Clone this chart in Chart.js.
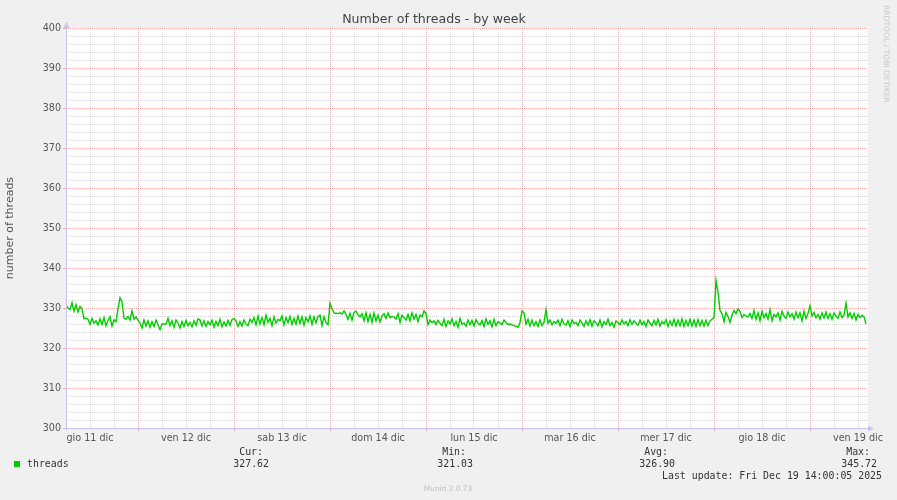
<!DOCTYPE html>
<html><head><meta charset="utf-8">
<script src="https://cdn.jsdelivr.net/npm/chart.js@4.4.1/dist/chart.umd.min.js"></script>
<style>html,body{margin:0;padding:0;background:#f0f0f0;}#wrap{width:897px;height:500px;position:relative}</style>
</head><body><div id="wrap"><canvas id="c" width="897" height="500"></canvas></div>
<script>
// ---- data ----
const chartTitle = "Number of threads - by week";
const yAxisTitle = "number of threads";
const sideText = "RRDTOOL / TOBI OETIKER";
const footerText = "Munin 2.0.73";
// samples every 30 minutes, starting Wed 10 Dec 2025 06:00 (hour 0)
const sampleStepHours = 0.5;
const hoursSpan = 200.5;
const dayLabels = ["gio 11 dic","ven 12 dic","sab 13 dic","dom 14 dic","lun 15 dic","mar 16 dic","mer 17 dic","gio 18 dic","ven 19 dic"];
const labelHours = [6, 30, 54, 78, 102, 126, 150, 174, 198];
const midnightHours = [18, 42, 66, 90, 114, 138, 162, 186];
const yMin = 300, yMax = 400;
const threads = [
  // Wed 10 Dec 06:00 - 23:30
  330.8, 330.0, 329.6, 331.3, 329.2, 330.8, 329.0, 330.4, 329.8, 327.3,
  327.5, 327.2, 325.9, 327.4, 326.2, 326.8, 325.8, 327.3, 325.9, 327.6,
  325.6, 326.9, 327.8, 325.5, 327.0, 326.6, 329.8, 332.6, 331.6, 327.5,
  327.2, 327.9, 327.0, 329.3, 327.2, 327.8,
  // Thu 11 Dec
  327.0, 326.2, 325.0, 327.0, 325.5, 326.8, 325.2, 326.6,
  325.4, 327.0, 325.8, 324.6, 326.0, 326.0, 326.0, 327.4,
  325.6, 326.8, 325.2, 327.0, 326.2, 325.0, 326.6, 325.4,
  326.9, 325.6, 326.4, 325.3, 326.8, 325.7, 327.3, 327.0,
  325.5, 326.8, 325.4, 326.6, 325.8, 327.0, 325.2, 326.6,
  325.6, 327.2, 325.3, 326.5, 325.5, 326.9, 325.7, 327.1,
  // Fri 12 Dec
  327.4, 326.8, 325.4, 326.6, 325.5, 327.0, 326.0, 325.6,
  327.2, 326.4, 327.6, 325.8, 328.0, 326.0, 327.6, 325.8,
  328.2, 326.4, 327.4, 325.6, 327.8, 326.2, 327.2, 326.8,
  328.0, 325.8, 327.6, 326.4, 327.9, 325.9, 327.4, 326.0,
  328.0, 326.2, 327.8, 325.7, 327.6, 326.6, 328.0, 325.9,
  327.8, 326.3, 327.9, 328.2, 325.6, 327.8, 326.4, 325.8,
  // Sat 13 Dec
  331.2, 329.8, 328.8, 328.7, 328.6, 328.8, 328.5, 329.3,
  328.4, 327.2, 328.7, 327.0, 328.9, 329.2, 328.3, 327.8,
  328.6, 326.8, 328.8, 326.6, 328.4, 326.4, 328.8, 326.8,
  328.2, 326.5, 328.0, 328.6, 327.4, 328.8, 327.6, 327.9,
  327.8, 327.2, 328.6, 326.4, 328.2, 327.6, 327.0, 328.4,
  326.8, 328.8, 327.2, 328.4, 326.6, 328.2, 327.8, 329.3,
  // Sun 14 Dec
  328.6, 325.8, 327.0, 326.4, 326.8, 325.9, 326.9, 326.2,
  325.6, 327.2, 325.4, 326.8, 326.0, 327.3, 325.6, 326.6,
  325.2, 327.4, 326.0, 326.2, 325.4, 327.0, 325.8, 326.9,
  325.5, 327.1, 326.2, 325.8, 326.9, 325.4, 327.3, 325.9,
  326.8, 325.3, 327.2, 325.6, 326.6, 326.3, 325.8, 327.0,
  326.4, 325.9, 326.0, 325.8, 325.6, 325.4, 325.2, 326.4,
  // Mon 15 Dec
  329.3, 328.8, 326.0, 327.2, 325.5, 327.0, 325.6, 326.6,
  325.4, 327.0, 325.6, 326.4, 329.6, 326.2, 327.0, 325.8,
  326.6, 326.2, 327.0, 325.6, 327.2, 326.0, 325.8, 326.8,
  325.4, 327.0, 326.1, 326.4, 325.6, 327.0, 326.2, 325.4,
  326.8, 325.7, 327.1, 325.5, 326.8, 326.3, 325.6, 327.0,
  325.3, 326.6, 325.9, 327.2, 325.6, 326.4, 325.2, 326.8,
  // Tue 16 Dec
  326.4, 325.8, 327.0, 326.0, 326.6, 325.6, 327.1, 325.9,
  326.8, 326.2, 325.7, 327.0, 325.8, 326.6, 325.4, 327.0,
  326.2, 325.6, 326.9, 325.8, 327.2, 325.5, 326.6, 326.0,
  327.1, 325.4, 326.8, 325.7, 327.2, 325.5, 327.0, 325.6,
  327.3, 325.4, 326.9, 325.6, 327.2, 325.5, 327.0, 325.4,
  327.1, 325.6, 326.9, 325.5, 327.0, 325.6, 326.8, 327.2,
  // Wed 17 Dec
  327.6, 336.9, 334.0, 329.4, 328.6, 326.6, 328.9, 327.8,
  326.4, 328.2, 329.4, 328.6, 329.8, 329.2, 327.6, 328.4,
  328.0, 327.8, 328.6, 327.4, 329.4, 327.2, 328.8, 326.8,
  329.2, 327.6, 328.6, 327.2, 329.6, 326.8, 328.4, 327.8,
  328.8, 327.0, 329.2, 328.0, 327.4, 329.0, 327.8, 328.6,
  327.2, 329.0, 327.6, 328.8, 326.8, 329.2, 327.4, 328.6,
  // Thu 18 Dec 00:00 - Fri 19 Dec ~14:00
  330.6, 328.0, 328.9, 327.6, 328.4, 327.2, 328.8, 327.5,
  329.0, 327.4, 328.6, 327.2, 328.8, 328.0, 327.4, 329.0,
  327.6, 328.2, 331.2, 327.8, 328.8, 327.4, 328.6, 327.0,
  328.4, 327.6, 328.2, 327.8, 326.0
];
const seriesName = "threads";
const legendHeaders = ["Cur:", "Min:", "Avg:", "Max:"];
const legendValues = ["327.62", "321.03", "326.90", "345.72"];
const lastUpdate = "Last update: Fri Dec 19 14:00:05 2025";

// ---- styles ----
const GREEN = "#00cc00";
const MAJOR = "rgba(242,140,140,0.75)";
const MINOR = "rgba(200,200,200,0.75)";
const AXIS = "#c4c4f0";
const SANS = "'DejaVu Sans', sans-serif";
const MONO = "'DejaVu Sans Mono', monospace";

const extras = {
  id: "extras",
  beforeDraw(chart) {
    const {ctx, chartArea: a} = chart;
    ctx.save();
    ctx.fillStyle = "#ffffff";
    ctx.fillRect(a.left, a.top, a.right - a.left, a.bottom - a.top);
    ctx.restore();
  },
  afterDraw(chart) {
    const {ctx, chartArea: a} = chart;
    ctx.save();
    ctx.strokeStyle = AXIS; ctx.fillStyle = AXIS; ctx.lineWidth = 1;
    ctx.beginPath();
    ctx.moveTo(a.left + 0.5, a.bottom + 2); ctx.lineTo(a.left + 0.5, a.top - 4);
    ctx.moveTo(a.left - 2, a.bottom + 0.5); ctx.lineTo(a.right + 4, a.bottom + 0.5);
    ctx.stroke();
    ctx.beginPath();
    ctx.moveTo(a.left - 2.5, a.top); ctx.lineTo(a.left + 3.5, a.top); ctx.lineTo(a.left + 0.5, a.top - 6); ctx.closePath(); ctx.fill();
    ctx.beginPath();
    ctx.moveTo(a.right, a.bottom - 2.5); ctx.lineTo(a.right, a.bottom + 3.5); ctx.lineTo(a.right + 6, a.bottom + 0.5); ctx.closePath(); ctx.fill();

    ctx.save();
    ctx.translate(886, 5);
    ctx.rotate(Math.PI / 2);
    ctx.font = "7.6px " + SANS;
    ctx.fillStyle = "#c8c8c8";
    ctx.textAlign = "left"; ctx.textBaseline = "middle";
    ctx.fillText(sideText, 0, 0);
    ctx.restore();

    ctx.fillStyle = GREEN;
    ctx.fillRect(14, 461, 6, 6);
    ctx.font = "9.9px " + MONO;
    ctx.fillStyle = "#333333";
    ctx.textBaseline = "middle";
    ctx.textAlign = "left";
    ctx.fillText(seriesName, 27, 464.5);
    const hdrRight = [263, 466, 668, 870];
    const valRight = [269, 473, 675, 877];
    ctx.textAlign = "right";
    for (let i = 0; i < legendHeaders.length; i++) {
      ctx.fillText(legendHeaders[i], hdrRight[i], 452.5);
      ctx.fillText(legendValues[i], valRight[i], 464.5);
    }
    ctx.fillText(lastUpdate, 882, 476.5);

    ctx.font = "7.4px " + SANS;
    ctx.fillStyle = "#c0c0c0";
    ctx.textAlign = "center";
    ctx.fillText(footerText, 448, 489);
    ctx.restore();
  }
};

const points = threads.map((v, i) => ({x: i * sampleStepHours, y: v}));
const isMidnight = (v) => midnightHours.includes(v);

new Chart(document.getElementById("c"), {
  type: "line",
  data: {
    datasets: [{
      label: seriesName,
      data: points,
      borderColor: GREEN,
      borderWidth: 1.4,
      pointRadius: 0,
      tension: 0,
      fill: false
    }]
  },
  options: {
    responsive: false,
    animation: false,
    devicePixelRatio: 1,
    layout: {padding: {left: 0, right: 29, top: 0, bottom: 52}},
    plugins: {
      legend: {display: false},
      tooltip: {enabled: false},
      title: {
        display: true,
        text: chartTitle,
        color: "#444444",
        font: {family: SANS, size: 12.6, weight: "normal"},
        padding: {top: 12, bottom: 1}
      }
    },
    scales: {
      x: {
        type: "linear",
        min: 0,
        max: hoursSpan,
        afterFit(s) { s.height = 20; },
        afterBuildTicks(s) {
          const t = [];
          for (let h = 6; h < hoursSpan; h += 6) t.push({value: h});
          s.ticks = t;
        },
        ticks: {
          autoSkip: false,
          maxRotation: 0,
          padding: 2,
          color: "#555555",
          font: {family: SANS, size: 9.6},
          callback: (v) => { const k = labelHours.indexOf(v); return k >= 0 ? dayLabels[k] : ""; }
        },
        grid: {
          color: (c) => (c.tick && isMidnight(c.tick.value) ? MAJOR : MINOR),
          tickColor: (c) => (c.tick && isMidnight(c.tick.value) ? MAJOR : "rgba(0,0,0,0)"),
          tickLength: 3,
          lineWidth: 1
        },
        border: {display: false, dash: [1, 1]}
      },
      y: {
        type: "linear",
        min: yMin,
        max: yMax,
        afterFit(s) { s.width = 66; },
        afterBuildTicks(s) {
          const t = [];
          for (let v = yMin; v <= yMax; v += 2) t.push({value: v});
          s.ticks = t;
        },
        ticks: {
          autoSkip: false,
          padding: 2,
          color: "#555555",
          font: {family: SANS, size: 9.6},
          callback: (v) => (v % 10 === 0 ? String(v) : "")
        },
        grid: {
          color: (c) => (c.tick && c.tick.value % 10 === 0 ? MAJOR : MINOR),
          tickColor: (c) => (c.tick && c.tick.value % 10 === 0 ? MAJOR : "rgba(0,0,0,0)"),
          tickLength: 3,
          lineWidth: 1
        },
        border: {display: false, dash: [1, 1]},
        title: {
          display: true,
          text: yAxisTitle,
          color: "#555555",
          font: {family: SANS, size: 11},
          padding: {top: 4, bottom: 0}
        }
      }
    }
  },
  plugins: [extras]
});
</script>
</body></html>
